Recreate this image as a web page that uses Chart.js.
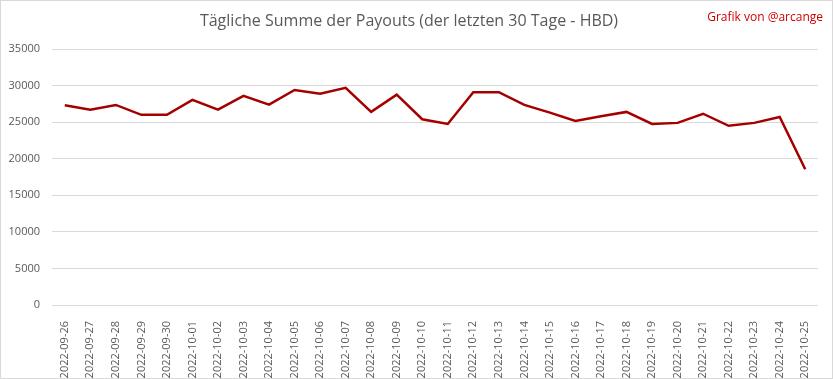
<!DOCTYPE html>
<html><head><meta charset="utf-8">
<script src="https://cdn.jsdelivr.net/npm/chart.js@4"></script>
<style>
html,body{margin:0;padding:0;background:#fff;}
#wrap{position:relative;width:833px;height:379px;box-sizing:border-box;border:1px solid #d9d9d9;}
#c{position:absolute;left:-1px;top:-1px;}
#credit{position:absolute;right:9px;top:7px;font-family:"Open Sans",sans-serif;font-size:12px;color:#d00000;}
</style></head><body>
<div id="wrap"><canvas id="c" width="833" height="379"></canvas><div id="credit">Grafik von @arcange</div></div>
<script>
const categories=["2022-09-26","2022-09-27","2022-09-28","2022-09-29","2022-09-30","2022-10-01","2022-10-02","2022-10-03","2022-10-04","2022-10-05","2022-10-06","2022-10-07","2022-10-08","2022-10-09","2022-10-10","2022-10-11","2022-10-12","2022-10-13","2022-10-14","2022-10-15","2022-10-16","2022-10-17","2022-10-18","2022-10-19","2022-10-20","2022-10-21","2022-10-22","2022-10-23","2022-10-24","2022-10-25"];
const payouts=[27300,26700,27350,26000,26000,28050,26700,28600,27400,29400,28900,29700,26400,28750,25400,24750,29100,29100,27350,26300,25150,25800,26400,24750,24900,26150,24500,24900,25700,18550];
const yTicks=[0,5000,10000,15000,20000,25000,30000,35000];
const tickFont={family:"'Open Sans',sans-serif",size:11};
new Chart(document.getElementById('c'),{
 type:'line',
 data:{labels:categories,datasets:[{data:payouts,borderColor:'#a50000',borderWidth:2.5,pointRadius:0,tension:0,fill:false}]},
 options:{
  responsive:false,animation:false,
  layout:{padding:{left:0,right:15,top:0,bottom:0}},
  plugins:{legend:{display:false},tooltip:{enabled:false},
   title:{display:true,text:'Tägliche Summe der Payouts (der letzten 30 Tage - HBD)',color:'#595959',font:{family:"'Open Sans',sans-serif",size:16,weight:'normal'},padding:{top:12,bottom:17.8}}},
  scales:{
   x:{offset:true,grid:{display:false},border:{display:false},
      ticks:{color:'#595959',font:tickFont,minRotation:90,maxRotation:90,autoSkip:false,padding:8},
      afterFit:s=>{s.height=74;}},
   y:{min:0,max:35000,grid:{color:'#d9d9d9',drawTicks:false},border:{display:false},
      afterBuildTicks:s=>{s.ticks=yTicks.map(v=>({value:v}));},
      ticks:{color:'#595959',font:tickFont,padding:12,callback:v=>String(v)},
      afterFit:s=>{s.width=52;}}
  }
 }
});
</script></body></html>
